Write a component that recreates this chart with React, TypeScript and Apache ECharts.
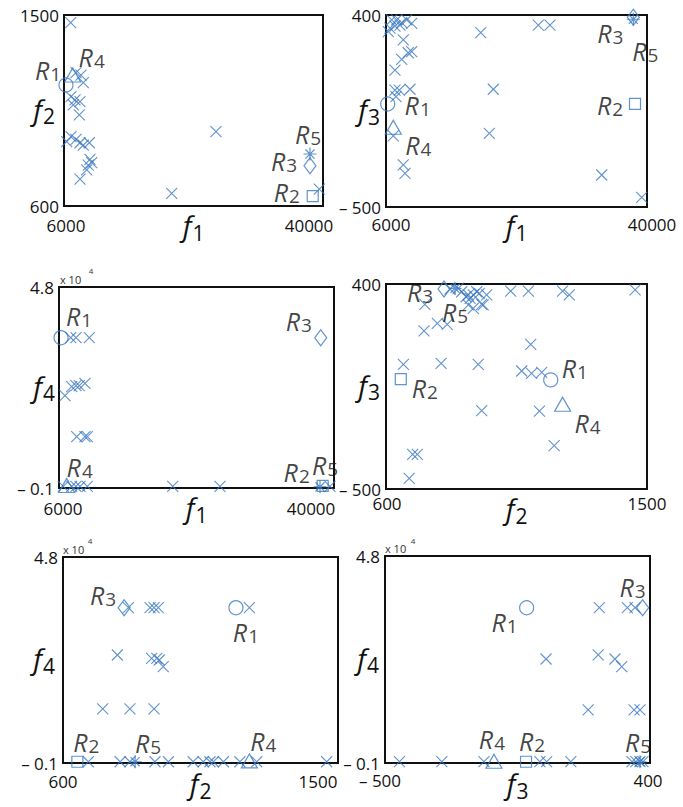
import React, { useEffect, useRef } from 'react';
import * as echarts from 'echarts';

// ---------- data ----------
// axis ranges (also the only tick labels shown)
const f1Ticks = [6000, 40000];
const f2Ticks = [600, 1500];
const f3Ticks = [-500, 400];
const f4Ticks = [-1000, 48000];

// solutions (crosses) in each pairwise panel
const p1Cross = [[6880,1464],[7575,1228],[8230,1217],[8535,1181],[6920,1115],[7445,1100],[8100,1092],[7220,1076],[8010,1029],[6355,903],[6920,927],[7575,914],[8100,898],[8535,887],[9320,898],[9410,820],[9640,804],[9190,793],[8980,770],[8100,727],[25950,950],[20140,660],[39510,679]];
const p2Cross = [[6740,377],[7390,377],[8045,364],[8700,377],[9350,361],[6520,338],[7170,348],[7820,353],[6300,322],[8250,283],[9350,228],[8900,223],[8045,192],[7170,142],[7170,48],[7730,48],[9130,52],[7300,17],[6950,-167],[8250,-303],[8475,-342],[18340,317],[25840,353],[27360,353],[19980,52],[19460,-155],[34100,-350],[39310,-455]];
const p3Cross = [[7450,35640],[8100,35640],[9750,35640],[6740,21500],[7570,23700],[8100,23940],[8510,23940],[9210,24520],[8190,11500],[9210,11500],[9500,11500],[6530,-600],[7570,-600],[8100,-600],[8600,-600],[9500,-600],[20060,-600],[25900,-600],[39500,-600]];
const p4Cross = [[821,378],[849,381],[876,344],[901,352],[913,366],[922,359],[947,352],[930,311],[901,293],[890,337],[861,366],[884,352],[935,308],[884,308],[1030,369],[1091,369],[1209,369],[1232,352],[1459,374],[734,311],[731,194],[777,227],[811,223],[660,47],[790,52],[918,47],[1099,135],[1068,18],[1102,8],[1137,12],[930,-156],[1129,-158],[1180,-310],[692,-348],[708,-348],[680,-453]];
const p5Cross = [[814,35940],[885,35940],[898,35940],[912,35940],[1210,35940],[778,24690],[890,23900],[907,23900],[915,23500],[928,21900],[730,11850],[819,11850],[898,11850],[683,-700],[787,-700],[819,-700],[901,-700],[945,-700],[1026,-700],[1059,-700],[1081,-700],[1092,-700],[1125,-700],[1179,-700],[1234,-700],[1463,-700]];
const p6Cross = [[228,35760],[323,35760],[349,35760],[47,23620],[224,24570],[281,23620],[304,21800],[190,11550],[346,11550],[366,11550],[-451,-700],[-307,-700],[-164,-700],[26,-700],[49,-700],[131,-700],[339,-700],[352,-700],[366,-700],[376,-700]];

// reference points R1..R5 in each panel
const p1Ref = [[6260,1170],[38650,647],[38290,790],[7140,1217],[38290,845]];
const p2Ref = [[6220,-17],[38440,-17],[38220,389],[6950,-126],[38220,380]];
const p3Ref = [[6250,35640],[38600,-500],[38360,35640],[6950,-400],[38270,-700]];
const p4Ref = [[1168,-21],[651,-18],[800,378],[1209,-128],[838,381]];
const p5Ref = [[1166,35940],[647,-700],[800,35940],[1210,-500],[836,-700]];
const p6Ref = [[-19,35760],[-21,-700],[375,35760],[-130,-600],[366,-700]];

// ---------- styles / layout ----------
const BLUE = '#3a78c0';
const INK = '#111111';
const FONT = '"Open Sans", "DejaVu Sans", sans-serif';

const crossPath = 'path://M0,0L10,10M10,0L0,10';
const starPath = 'path://M5,0L5,10M0,5L10,5M1.5,1.5L8.5,8.5M8.5,1.5L1.5,8.5';
const refSymbols: { symbol: string; size: number | number[] }[] = [
  { symbol: 'circle', size: 14 },
  { symbol: 'rect', size: 11 },
  { symbol: 'diamond', size: [12, 16] },
  { symbol: 'triangle', size: [16, 14] },
  { symbol: starPath, size: 13 },
];

const axisDefs: Record<string, { ticks: number[]; sub: string; scale: number }> = {
  f1: { ticks: f1Ticks, sub: '1', scale: 1 },
  f2: { ticks: f2Ticks, sub: '2', scale: 1 },
  f3: { ticks: f3Ticks, sub: '3', scale: 1 },
  f4: { ticks: f4Ticks, sub: '4', scale: 10000 },
};

const panels = [
  { xKey: 'f1', yKey: 'f2', cross: p1Cross, refs: p1Ref,
    grid: { left: 64, top: 15, width: 259, height: 191 },
    offs: [[-18, -15], [-26, -4], [-26, -4], [19, -18], [-2, -20]],
    xShift: [2, -14], xMargin: 11, xNameGap: 5, yNameGap: 9 },
  { xKey: 'f1', yKey: 'f3', cross: p2Cross, refs: p2Ref,
    grid: { left: 386, top: 15, width: 261, height: 192 },
    offs: [[30, 2], [-25, 2], [-23, 16], [25, 18], [12, 32]],
    xShift: [5, 5], xMargin: 9, xNameGap: 4, yNameGap: 6 },
  { xKey: 'f1', yKey: 'f4', cross: p3Cross, refs: p3Ref,
    grid: { left: 59, top: 287, width: 275, height: 201 },
    offs: [[18, -21], [-26, -13], [-22, -16], [13, -18], [5, -21]],
    xShift: [4, -23], xMargin: 12, xNameGap: 5, yNameGap: 4 },
  { xKey: 'f2', yKey: 'f3', cross: p4Cross, refs: p4Ref,
    grid: { left: 386, top: 284, width: 261, height: 205 },
    offs: [[24, -11], [24, 9], [-24, 3], [25, 19], [0, 24]],
    xShift: [1, 0], xMargin: 6, xNameGap: 5, yNameGap: 6 },
  { xKey: 'f2', yKey: 'f4', cross: p5Cross, refs: p5Ref,
    grid: { left: 63, top: 557, width: 275, height: 206 },
    offs: [[10, 25], [9, -19], [-21, -12], [14, -19], [13, -18]],
    xShift: [0, -20], xMargin: 10, xNameGap: 6, yNameGap: 8 },
  { xKey: 'f3', yKey: 'f4', cross: p6Cross, refs: p6Ref,
    grid: { left: 385, top: 556, width: 265, height: 207 },
    offs: [[-22, 15], [6, -20], [-10, -20], [-2, -22], [-2, -19]],
    xShift: [-5, -2], xMargin: 9, xNameGap: 6, yNameGap: 6 },
];

function fmtTick(key: string, v: number): string {
  const s = axisDefs[key].scale;
  const val = v / s;
  const txt = s === 1 ? String(Math.abs(val)) : String(Math.abs(Math.round(val * 10) / 10));
  return val < 0 ? '– ' + txt : txt;
}

function shiftPad(s: number) {
  return s >= 0 ? [0, 0, 0, 2 * s] : [0, -2 * s, 0, 0];
}

const tickFont = { fontSize: 17, fontFamily: FONT, color: INK };

function nameRich() {
  return {
    f: { fontSize: 28, fontStyle: 'italic', fontFamily: FONT, color: INK, verticalAlign: 'bottom', padding: [0, 1, 4, 0] },
    d: { fontSize: 21, fontFamily: FONT, color: INK, verticalAlign: 'bottom' },
  };
}

function buildOption() {
  const grid: any[] = [];
  const xAxis: any[] = [];
  const yAxis: any[] = [];
  const series: any[] = [];

  panels.forEach((p, i) => {
    grid.push({
      ...p.grid, show: true, borderColor: INK, borderWidth: 2,
      backgroundColor: 'transparent', containLabel: false, outerBoundsMode: 'none',
    });
    const xd = axisDefs[p.xKey];
    const yd = axisDefs[p.yKey];
    xAxis.push({
      gridIndex: i, type: 'value', min: xd.ticks[0], max: xd.ticks[1],
      axisLine: { show: false }, axisTick: { show: false }, splitLine: { show: false },
      axisLabel: {
        customValues: xd.ticks, margin: p.xMargin, ...tickFont,
        formatter: (v: number) => (v === xd.ticks[0] ? `{a|${fmtTick(p.xKey, v)}}` : `{b|${fmtTick(p.xKey, v)}}`),
        rich: {
          a: { ...tickFont, padding: shiftPad(p.xShift[0]) },
          b: { ...tickFont, padding: shiftPad(p.xShift[1]) },
        },
      },
      name: `{f|f}{d|${xd.sub}}`, nameLocation: 'middle', nameGap: p.xNameGap, nameRotate: 0,
      nameMoveOverlap: false,
      nameTextStyle: { rich: nameRich() },
    });
    yAxis.push({
      gridIndex: i, type: 'value', min: yd.ticks[0], max: yd.ticks[1],
      axisLine: { show: false }, axisTick: { show: false }, splitLine: { show: false },
      axisLabel: {
        customValues: yd.ticks, margin: 5, ...tickFont,
        formatter: (v: number) => fmtTick(p.yKey, v),
      },
      name: `{f|f}{d|${yd.sub}}`, nameLocation: 'middle', nameGap: p.yNameGap, nameRotate: 0,
      nameMoveOverlap: false,
      nameTextStyle: { rich: nameRich() },
    });
    series.push({
      type: 'scatter', xAxisIndex: i, yAxisIndex: i, z: 2,
      symbol: crossPath, symbolSize: 11,
      itemStyle: { color: 'transparent', borderColor: BLUE, borderWidth: 1.1 },
      data: p.cross,
    });
    series.push({
      type: 'scatter', xAxisIndex: i, yAxisIndex: i, z: 3,
      itemStyle: { color: 'transparent', borderColor: BLUE, borderWidth: 1.2 },
      data: p.refs.map((v, k) => ({
        value: v,
        symbol: refSymbols[k].symbol,
        symbolSize: refSymbols[k].size,
        label: {
          show: true, position: 'inside', offset: p.offs[k],
          formatter: `{r|R}{d|${k + 1}}`,
          color: INK, textBorderWidth: 0, textBorderColor: 'transparent',
          rich: {
            r: { fontSize: 25, fontStyle: 'italic', fontFamily: FONT, color: INK, verticalAlign: 'bottom', padding: [0, 1, 1, 0], textBorderWidth: 0 },
            d: { fontSize: 19, fontFamily: FONT, color: INK, verticalAlign: 'bottom', textBorderWidth: 0 },
          },
        },
      })),
    });
  });

  const expo = (x: number, y: number, sx: number, sy: number) => [
    { type: 'text', x, y, style: { text: 'x 10', fontSize: 11, fontFamily: FONT, fill: '#333', verticalAlign: 'middle', align: 'left' } },
    { type: 'text', x: sx, y: sy, style: { text: '4', fontSize: 8, fontFamily: FONT, fill: '#333', verticalAlign: 'middle', align: 'center' } },
  ];

  return {
    animation: false,
    backgroundColor: '#fff',
    grid, xAxis, yAxis, series,
    graphic: [
      ...expo(60, 279, 91, 270),
      ...expo(63, 549, 90, 540),
      ...expo(385, 548, 413, 540),
    ],
  };
}

export default function App() {
  const ref = useRef<HTMLDivElement>(null);
  useEffect(() => {
    document.body.style.margin = '0';
    if (!ref.current) return;
    const chart = echarts.init(ref.current, null, { renderer: 'svg' });
    chart.setOption(buildOption() as any);
    return () => chart.dispose();
  }, []);
  return <div ref={ref} style={{ width: 683, height: 807 }} />;
}
